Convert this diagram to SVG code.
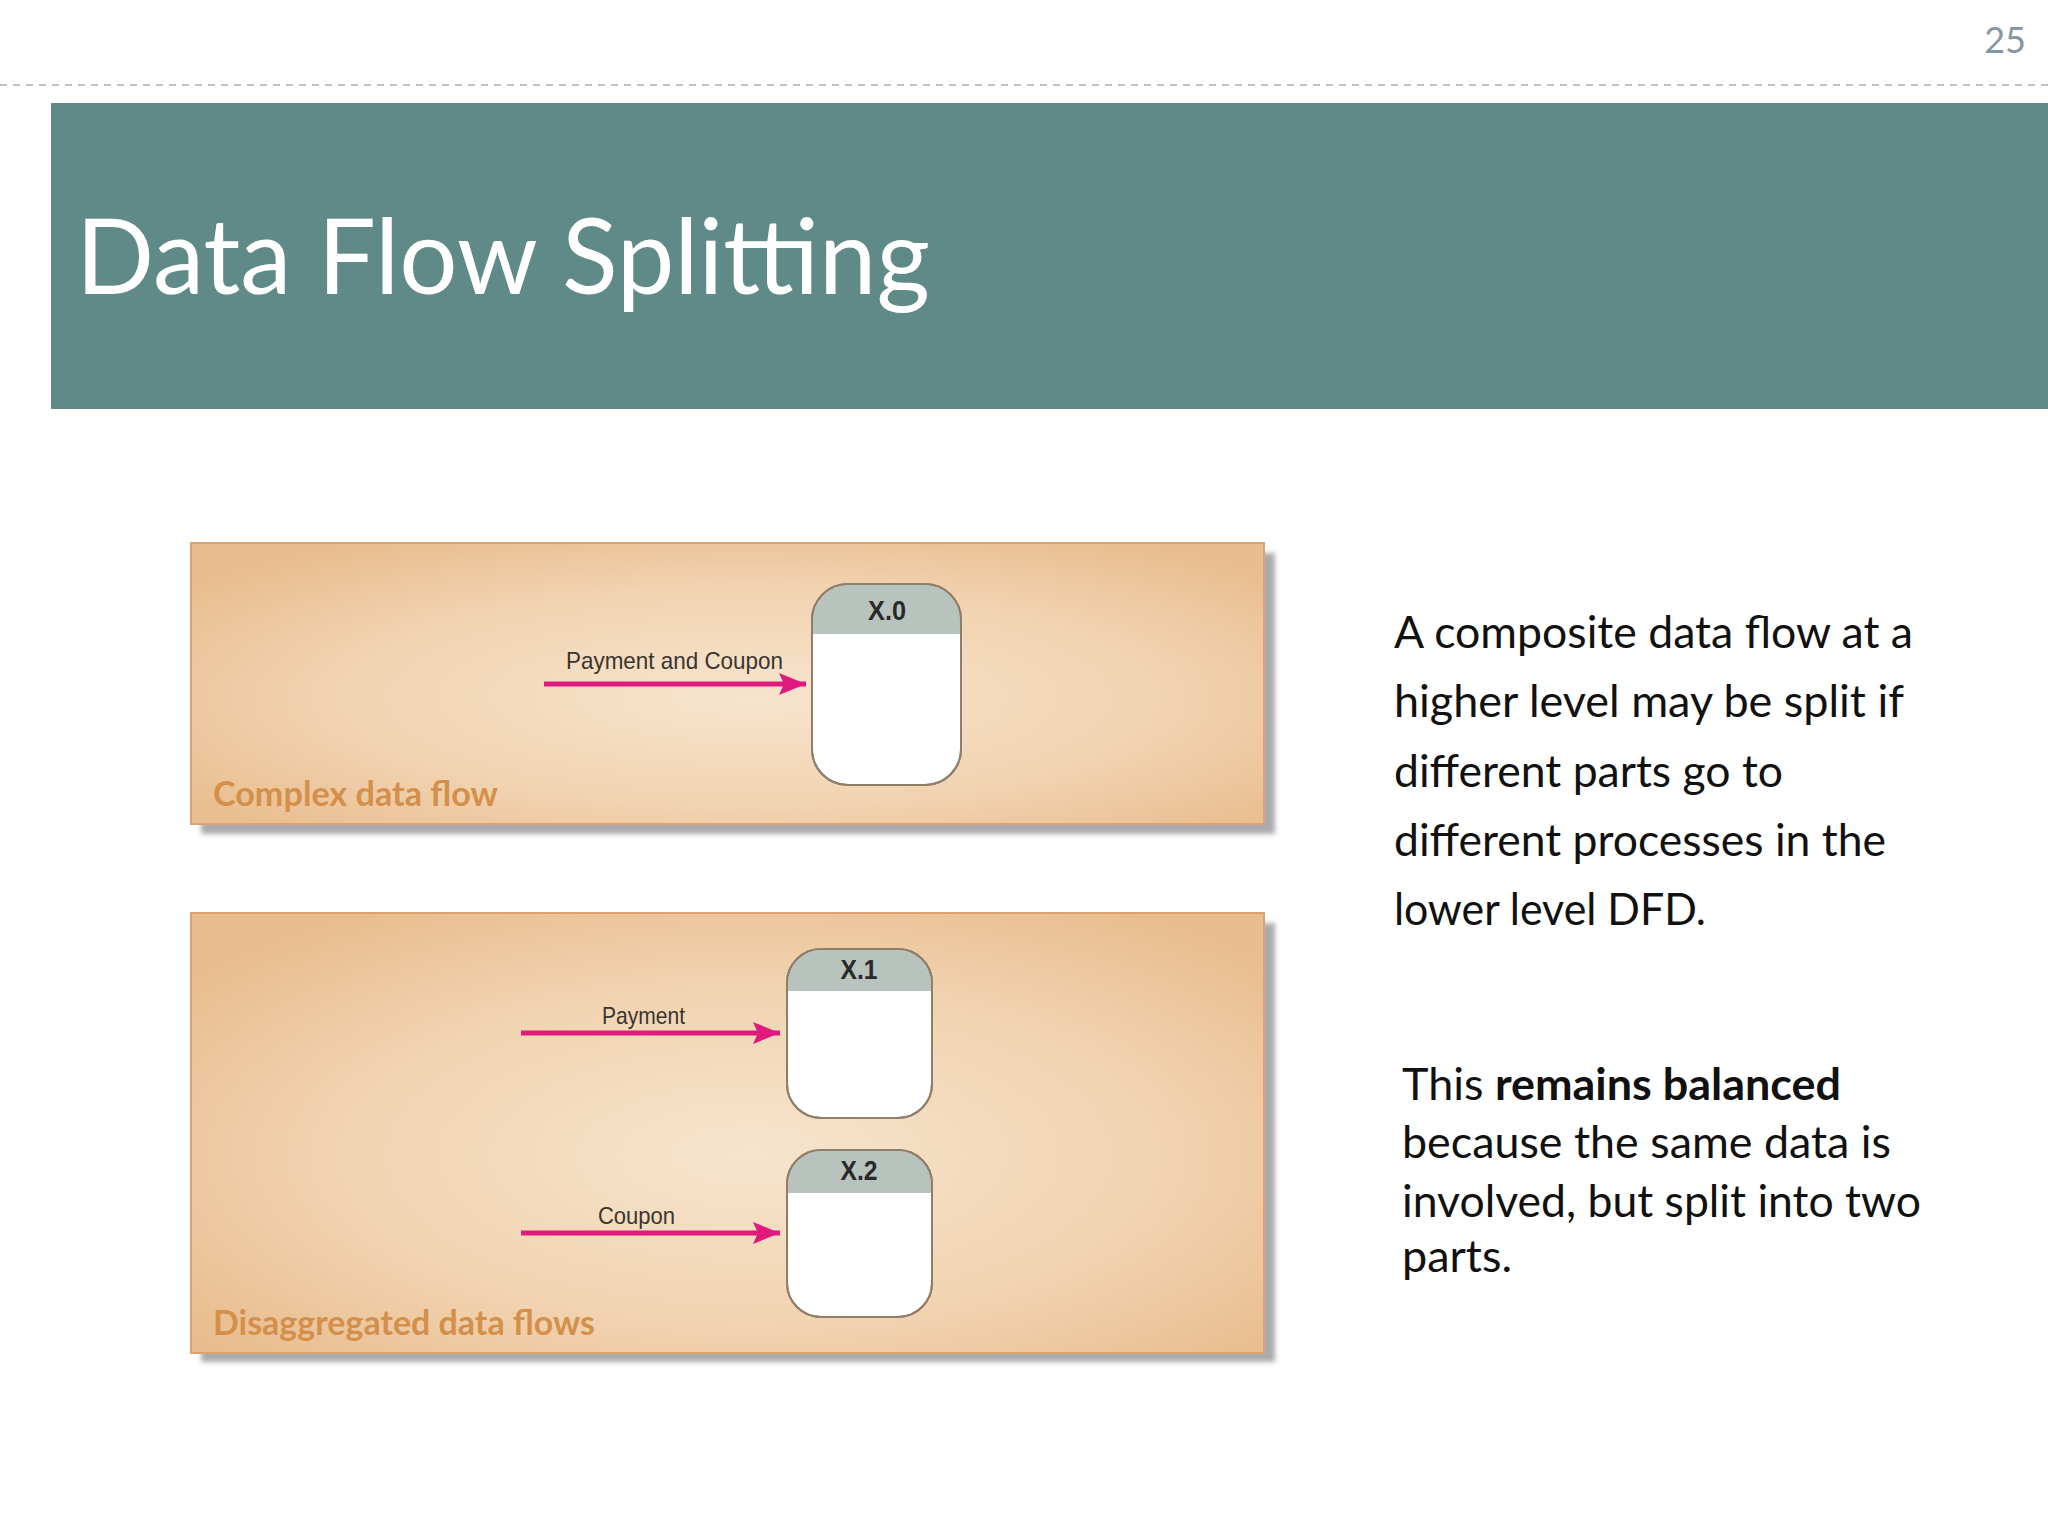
<svg xmlns="http://www.w3.org/2000/svg" width="2048" height="1536" viewBox="0 0 2048 1536">
  <defs>
    <style>
      .sans { font-family: Lato, "Liberation Sans", sans-serif; }
      .body { font-family: Lato, "Liberation Sans", sans-serif; font-size: 44px; fill: #111; }
      .cap { font-family: Lato, "Liberation Sans", sans-serif; font-weight: bold; font-size: 35px; fill: #D4904A; }
      .flowlbl { font-family: "Liberation Sans", Arial, sans-serif; font-size: 24px; fill: #3a352e; }
      .nodelbl { font-family: "Liberation Sans", Arial, sans-serif; font-size: 27px; font-weight: bold; fill: #2a2a2a; text-anchor: middle; }
      .nodebody { fill: #FFFFFF; stroke: #8E7E6A; stroke-width: 2; }
      .nodehead { fill: #B8C3BD; }
      .panel { stroke: #DDA271; stroke-width: 2; }
      .flow { stroke: #E0197C; stroke-width: 5; fill: none; }
    </style>
    <radialGradient id="panelGrad" cx="0.52" cy="0.55" r="0.65">
      <stop offset="0" stop-color="#F7E4CE"/>
      <stop offset="0.6" stop-color="#F1D3B0"/>
      <stop offset="1" stop-color="#E9BD8F"/>
    </radialGradient>
    <filter id="shadowBlur" x="-5%" y="-5%" width="110%" height="110%">
      <feGaussianBlur stdDeviation="2.5"/>
    </filter>
    <marker id="arrow" markerUnits="userSpaceOnUse" markerWidth="28" markerHeight="24" refX="27" refY="12" orient="auto">
      <path d="M0,1 L27,12 L0,23 L5,12 Z" fill="#E0197C"/>
    </marker>
  </defs>

  <rect x="0" y="0" width="2048" height="1536" fill="#FFFFFF"/>

  <!-- header -->
  <g id="page-number">
    <text x="2026" y="53" text-anchor="end" class="sans" font-size="36" fill="#8597A1">25</text>
  </g>
  <line x1="0" y1="85" x2="2048" y2="85" stroke="#BFC3C3" stroke-width="2" stroke-dasharray="7 6"/>
  <g id="title-bar">
    <rect x="51" y="103" width="1997" height="306" fill="#608A87"/>
    <text x="76" y="294" class="sans" font-size="104" fill="#FFFFFF" textLength="854" lengthAdjust="spacingAndGlyphs">Data Flow Splitting</text>
  </g>

  <!-- panel 1 -->
  <g id="panel-complex">
    <rect x="201" y="553" width="1074" height="281" fill="#A9ABAE" filter="url(#shadowBlur)"/>
    <rect x="191" y="543" width="1073" height="281" fill="url(#panelGrad)" class="panel"/>
    <text x="213" y="806" class="cap" textLength="285" lengthAdjust="spacingAndGlyphs">Complex data flow</text>
  </g>

  <!-- panel 2 -->
  <g id="panel-disaggregated">
    <rect x="201" y="923" width="1074" height="439" fill="#A9ABAE" filter="url(#shadowBlur)"/>
    <rect x="191" y="913" width="1073" height="440" fill="url(#panelGrad)" class="panel"/>
    <text x="213" y="1335" class="cap" textLength="382" lengthAdjust="spacingAndGlyphs">Disaggregated data flows</text>
  </g>

  <!-- process nodes -->
  <g id="node-x0">
    <rect x="812" y="584" width="149" height="201" rx="36" ry="36" class="nodebody"/>
    <path d="M813,634 V620 A35,35 0 0 1 848,585 H925 A35,35 0 0 1 960,620 V634 Z" class="nodehead"/>
    <rect x="812" y="584" width="149" height="201" rx="36" ry="36" fill="none" stroke="#8E7E6A" stroke-width="2"/>
    <text x="887" y="620" class="nodelbl" textLength="38" lengthAdjust="spacingAndGlyphs">X.0</text>
  </g>
  <g id="node-x1">
    <rect x="787" y="949" width="145" height="169" rx="34" ry="34" class="nodebody"/>
    <path d="M788,991 V983 A33,33 0 0 1 821,950 H898 A33,33 0 0 1 931,983 V991 Z" class="nodehead"/>
    <rect x="787" y="949" width="145" height="169" rx="34" ry="34" fill="none" stroke="#8E7E6A" stroke-width="2"/>
    <text x="859" y="979" class="nodelbl" textLength="37" lengthAdjust="spacingAndGlyphs">X.1</text>
  </g>
  <g id="node-x2">
    <rect x="787" y="1150" width="145" height="167" rx="34" ry="34" class="nodebody"/>
    <path d="M788,1193 V1184 A33,33 0 0 1 821,1151 H898 A33,33 0 0 1 931,1184 V1193 Z" class="nodehead"/>
    <rect x="787" y="1150" width="145" height="167" rx="34" ry="34" fill="none" stroke="#8E7E6A" stroke-width="2"/>
    <text x="859" y="1180" class="nodelbl" textLength="37" lengthAdjust="spacingAndGlyphs">X.2</text>
  </g>

  <!-- connectors -->
  <g id="connectors">
    <g id="flow-payment-coupon">
      <line x1="544" y1="684" x2="806" y2="684" class="flow" marker-end="url(#arrow)"/>
      <text x="566" y="669" class="flowlbl" textLength="217" lengthAdjust="spacingAndGlyphs">Payment and Coupon</text>
    </g>
    <g id="flow-payment">
      <line x1="521" y1="1033" x2="780" y2="1033" class="flow" marker-end="url(#arrow)"/>
      <text x="602" y="1024" class="flowlbl" textLength="83" lengthAdjust="spacingAndGlyphs">Payment</text>
    </g>
    <g id="flow-coupon">
      <line x1="521" y1="1233" x2="780" y2="1233" class="flow" marker-end="url(#arrow)"/>
      <text x="598" y="1224" class="flowlbl" textLength="77" lengthAdjust="spacingAndGlyphs">Coupon</text>
    </g>
  </g>

  <!-- right-hand text -->
  <g id="text-composite">
    <text x="1394" y="648" class="body" textLength="519" lengthAdjust="spacingAndGlyphs">A composite data flow at a</text>
    <text x="1394" y="717" class="body" textLength="510" lengthAdjust="spacingAndGlyphs">higher level may be split if</text>
    <text x="1394" y="787" class="body" textLength="389" lengthAdjust="spacingAndGlyphs">different parts go to</text>
    <text x="1394" y="856" class="body" textLength="492" lengthAdjust="spacingAndGlyphs">different processes in the</text>
    <text x="1394" y="925" class="body" textLength="312" lengthAdjust="spacingAndGlyphs">lower level DFD.</text>
  </g>
  <g id="text-balanced">
    <text x="1402" y="1100" class="body" textLength="439" lengthAdjust="spacingAndGlyphs">This <tspan font-weight="bold">remains balanced</tspan></text>
    <text x="1402" y="1158" class="body" textLength="489" lengthAdjust="spacingAndGlyphs">because the same data is</text>
    <text x="1402" y="1217" class="body" textLength="519" lengthAdjust="spacingAndGlyphs">involved, but split into two</text>
    <text x="1402" y="1272" class="body" textLength="110" lengthAdjust="spacingAndGlyphs">parts.</text>
  </g>
</svg>
